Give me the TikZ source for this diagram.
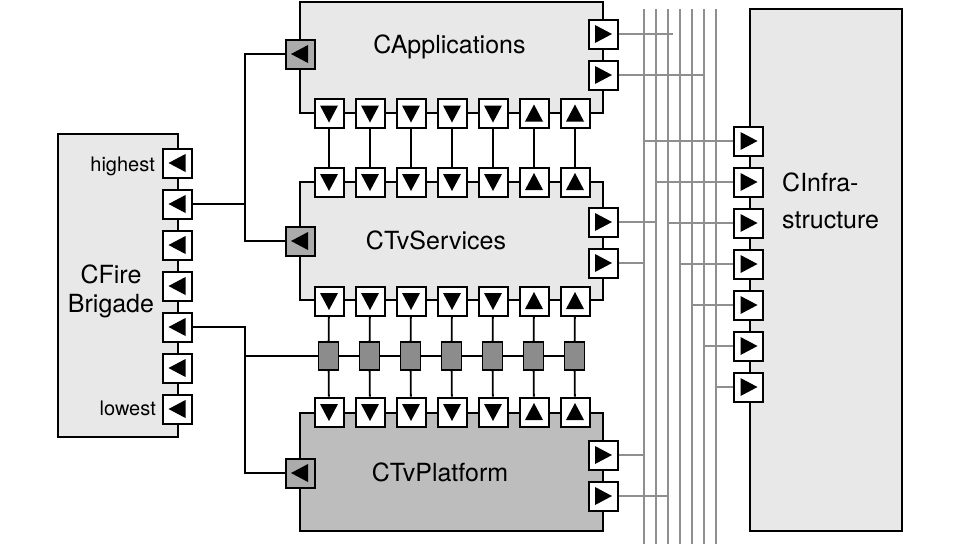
\documentclass[tikz,border=0pt]{standalone}
\usepackage{fontspec}
\setmainfont{TeX Gyre Heros}
\usetikzlibrary{shapes.misc}

\definecolor{unitgray}{gray}{0.91}
\definecolor{platgray}{gray}{0.74}
\definecolor{ingray}{gray}{0.67}
\definecolor{busgray}{gray}{0.55}
\definecolor{railgray}{gray}{0.56}

\tikzset{
  unit/.style={draw, line width=1.8pt, fill=unitgray, inner sep=0pt},
  port/.style={draw, line width=2pt, fill=white, minimum size=29pt, inner sep=0pt},
  inport/.style={port, fill=ingray},
  busnode/.style={chamfered rectangle, chamfered rectangle corners=north east,
    chamfered rectangle sep=5pt, draw, line width=1.8pt, fill=busgray,
    minimum width=20pt, minimum height=28pt, inner sep=0pt},
  wire/.style={line width=1.8pt},
  rail/.style={line width=2.2pt, draw=railgray},
  unitname/.style={font=\fontsize{25}{29}\selectfont, inner sep=0pt},
  prio/.style={font=\fontsize{20}{24}\selectfont, inner sep=0pt, anchor=base east},
  tri/.pic={\fill (-8,-9) -- (9,0) -- (-8,9) -- cycle;}
}

\begin{document}
\begin{tikzpicture}[x=1pt, y=-1pt]
    \useasboundingbox (0,0) rectangle (960,547);

    % units
    \node[unit, minimum width=120pt, minimum height=303pt] at (118,285.5) (fire) {};
    \node[unit, minimum width=303pt, minimum height=111pt] at (451.5,57.5) (apps) {};
    \node[unit, minimum width=303pt, minimum height=118pt] at (451.5,241) (svc) {};
    \node[unit, fill=platgray, minimum width=303pt, minimum height=118pt] at (451.5,472) (plat) {};
    \node[unit, minimum width=152pt, minimum height=522pt] at (826,270) (infra) {};

    \node[unitname, align=center] at (111,291) (firename) {CFire\\Brigade};
    \node[unitname, anchor=base] at (449.5,53) (appsname) {CApplications};
    \node[unitname, anchor=base] at (436,249) (svcname) {CTvServices};
    \node[unitname, anchor=base] at (440,481) (platname) {CTvPlatform};
    \node[unitname, align=left, anchor=west, font=\fontsize{25}{37}\selectfont] at (782,200.5) (infraname) {CInfra-\\structure};

    \node[prio] at (155,171) (highest) {highest};
    \node[prio] at (156,415) (lowest) {lowest};

    % bus rails
    \foreach \k in {1,...,7} {
        \coordinate (r\k) at (632+12*\k,9);
        \coordinate (r\k b) at (632+12*\k,544);
        \draw[rail] (r\k) -- (r\k b);
    }

    % priority ports of CFireBrigade
    \foreach \i in {1,...,7} {
        \node[port] at (177.5,122+41*\i) (f\i) {};
        \pic[rotate=180] at (f\i) {tri};
    }

    % service inputs
    \node[inport] at (300,54) (appin) {};
    \node[inport] at (300,241) (svcin) {};
    \node[inport] at (300,473) (platin) {};
    \foreach \n in {appin, svcin, platin}
        \pic[rotate=180] at (\n) {tri};

    % right hand ports
    \node[port] at (603,34) (ao1) {};
    \node[port] at (603,75) (ao2) {};
    \node[port] at (603,222) (so1) {};
    \node[port] at (603,263) (so2) {};
    \node[port] at (603,455) (po1) {};
    \node[port] at (603,496) (po2) {};
    \foreach \n in {ao1, ao2, so1, so2, po1, po2}
        \pic at (\n) {tri};

    % infrastructure ports
    \foreach \k in {1,...,7} {
        \node[port] at (748.5,100+41*\k) (ii\k) {};
        \pic at (ii\k) {tri};
    }

    % vertical port rows and bus nodes
    \foreach \i/\rot in {1/-90, 2/-90, 3/-90, 4/-90, 5/-90, 6/90, 7/90} {
        \node[port] at (288+41*\i,113.5) (ab\i) {};
        \node[port] at (288+41*\i,182) (st\i) {};
        \node[port] at (288+41*\i,301) (sb\i) {};
        \node[busnode] at (287.5+41*\i,356) (bus\i) {};
        \node[port] at (288+41*\i,412) (pt\i) {};
        \foreach \n in {ab, st, sb, pt}
            \pic[rotate=\rot] at (\n\i) {tri};
        \draw[wire] (ab\i) -- (st\i);
        \draw[wire] (sb\i) -- (bus\i);
        \draw[wire] (bus\i) -- (pt\i);
    }
    \foreach \i [count=\j from 2] in {1,...,6}
        \draw[wire] (bus\i) -- (bus\j);

    % priority wiring
    \coordinate (tap) at (245,0);
    \draw[wire] (f2.east) -- (f2.east -| tap) |- (appin.west);
    \draw[wire] (f2.east -| tap) |- (svcin.west);
    \draw[wire] (f5.east) -- (f5.east -| tap) |- (platin.west);
    \draw[wire] (bus1.west -| tap) -- (bus1.west);

    % connections to the rails
    \draw[rail] (ao1.east) -- ([xshift=5pt]ao1.east -| r3);
    \draw[rail] (ao2.east) -- (ao2.east -| r6);
    \draw[rail] (so1.east) -- (so1.east -| r2);
    \draw[rail] (so2.east) -- (so2.east -| r1);
    \draw[rail] (po1.east) -- (po1.east -| r1);
    \draw[rail] (po2.east) -- (po2.east -| r3);
    \foreach \k in {1,...,7}
        \draw[rail] (ii\k.west) -- (ii\k.west -| r\k);
\end{tikzpicture}
\end{document}
